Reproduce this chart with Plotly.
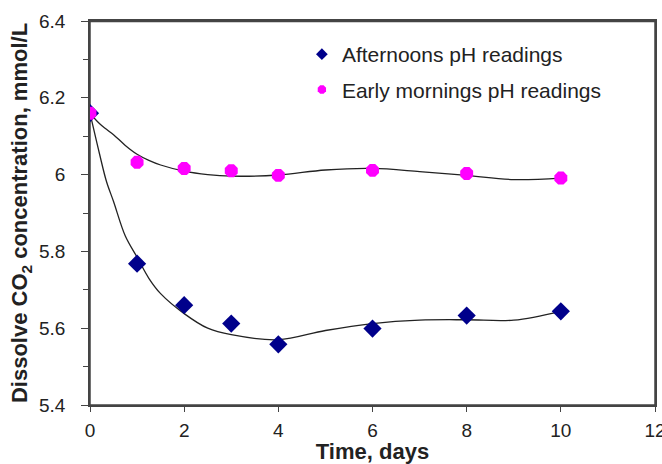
import plotly.graph_objects as go

days = [0, 1, 2, 3, 4, 6, 8, 10]
afternoon = [6.16, 5.768, 5.66, 5.612, 5.558, 5.599, 5.633, 5.644]
morning = [6.16, 6.032, 6.016, 6.01, 5.998, 6.011, 6.003, 5.991]

# trendline values
trend_x = [0, 0.2, 0.35, 0.5, 0.75, 1, 1.25, 1.5, 2, 2.5, 3, 4, 5, 6, 7, 8, 9, 10]
trend_morning = [6.16, 6.133, 6.118, 6.104, 6.076, 6.053, 6.037, 6.025, 6.009, 6.0, 5.996,
                 5.999, 6.012, 6.016, 6.008, 5.998, 5.987, 5.991]
trend_afternoon = [6.16, 6.055, 5.982, 5.93, 5.84, 5.785, 5.73, 5.69, 5.638, 5.60, 5.583,
                   5.57, 5.594, 5.612, 5.621, 5.622, 5.621, 5.644]

FONT = "Arial, Liberation Sans, sans-serif"

fig = go.Figure()
for ty in (trend_afternoon, trend_morning):
    fig.add_trace(go.Scatter(x=trend_x, y=ty, mode="lines",
                             line=dict(color="#222", width=1.3, shape="spline", smoothing=1.0),
                             showlegend=False, hoverinfo="skip"))
fig.add_trace(go.Scatter(x=days, y=afternoon, mode="markers", showlegend=False,
                         marker=dict(symbol="diamond", size=14, color="#00008B")))
fig.add_trace(go.Scatter(x=days, y=morning, mode="markers", showlegend=False,
                         marker=dict(symbol="octagon", size=14, color="#FF00FF")))
# legend entries (small symbols as in the original)
fig.add_trace(go.Scatter(x=[None], y=[None], mode="markers", name="Afternoons pH readings",
                         legendgroup="a", marker=dict(symbol="diamond", size=9, color="#00008B")))
fig.add_trace(go.Scatter(x=[None], y=[None], mode="markers", name="Early mornings pH readings",
                         legendgroup="b", marker=dict(symbol="octagon", size=9, color="#FF00FF")))

fig.update_layout(
    width=662, height=464,
    margin=dict(l=90, r=7, t=21, b=59),
    paper_bgcolor="white", plot_bgcolor="rgba(0,0,0,0)",
    font=dict(family=FONT, size=19, color="#222"),
    legend=dict(x=0.375, y=0.966, xanchor="left", yanchor="top",
                bgcolor="rgba(0,0,0,0)", tracegroupgap=5,
                font=dict(size=21)),
    xaxis=dict(range=[0, 12], dtick=2, showgrid=False, zeroline=False, automargin=False,
               showline=True, linecolor="#444", linewidth=1.5, mirror=True,
               ticks="outside", ticklen=5, tickcolor="#444", tickwidth=1.3,
               ticklabelstandoff=2, ticklabeloverflow="allow",
               title=dict(text="<b>Time, days</b>", font=dict(size=22), standoff=6)),
    yaxis=dict(range=[5.4, 6.4], showgrid=False, zeroline=False, automargin=False,
               showline=True, linecolor="#444", linewidth=1.5, mirror=True,
               ticks="outside", ticklen=7, tickcolor="#444", tickwidth=1.3,
               ticklabelstandoff=12, ticklabeloverflow="allow",
               tickvals=[5.4, 5.6, 5.8, 6.0, 6.2, 6.4],
               ticktext=["5.4", "5.6", "5.8", "6", "6.2", "6.4"],
               minor=dict(dtick=0.1, ticks="outside", ticklen=5, tickcolor="#444", tickwidth=1.2),
               title=dict(text="<b>Dissolve CO<sub>2</sub> concentration, mmol/L</b>",
                          font=dict(size=22), standoff=5)),
    shapes=[
        dict(type="rect", xref="paper", yref="paper", x0=0, x1=1, y0=0, y1=1,
             line=dict(color="#444", width=1.5), layer="below"),
        dict(type="line", xref="paper", yref="paper", x0=0, x1=1, y0=0.999, y1=0.999,
             line=dict(color="#444", width=1.5), layer="above"),
    ],
)

fig.write_html(
    "out.html",
    config={"displayModeBar": False},
    post_script="document.body.style.margin='0px';"
                "document.documentElement.style.overflow='hidden';",
)
